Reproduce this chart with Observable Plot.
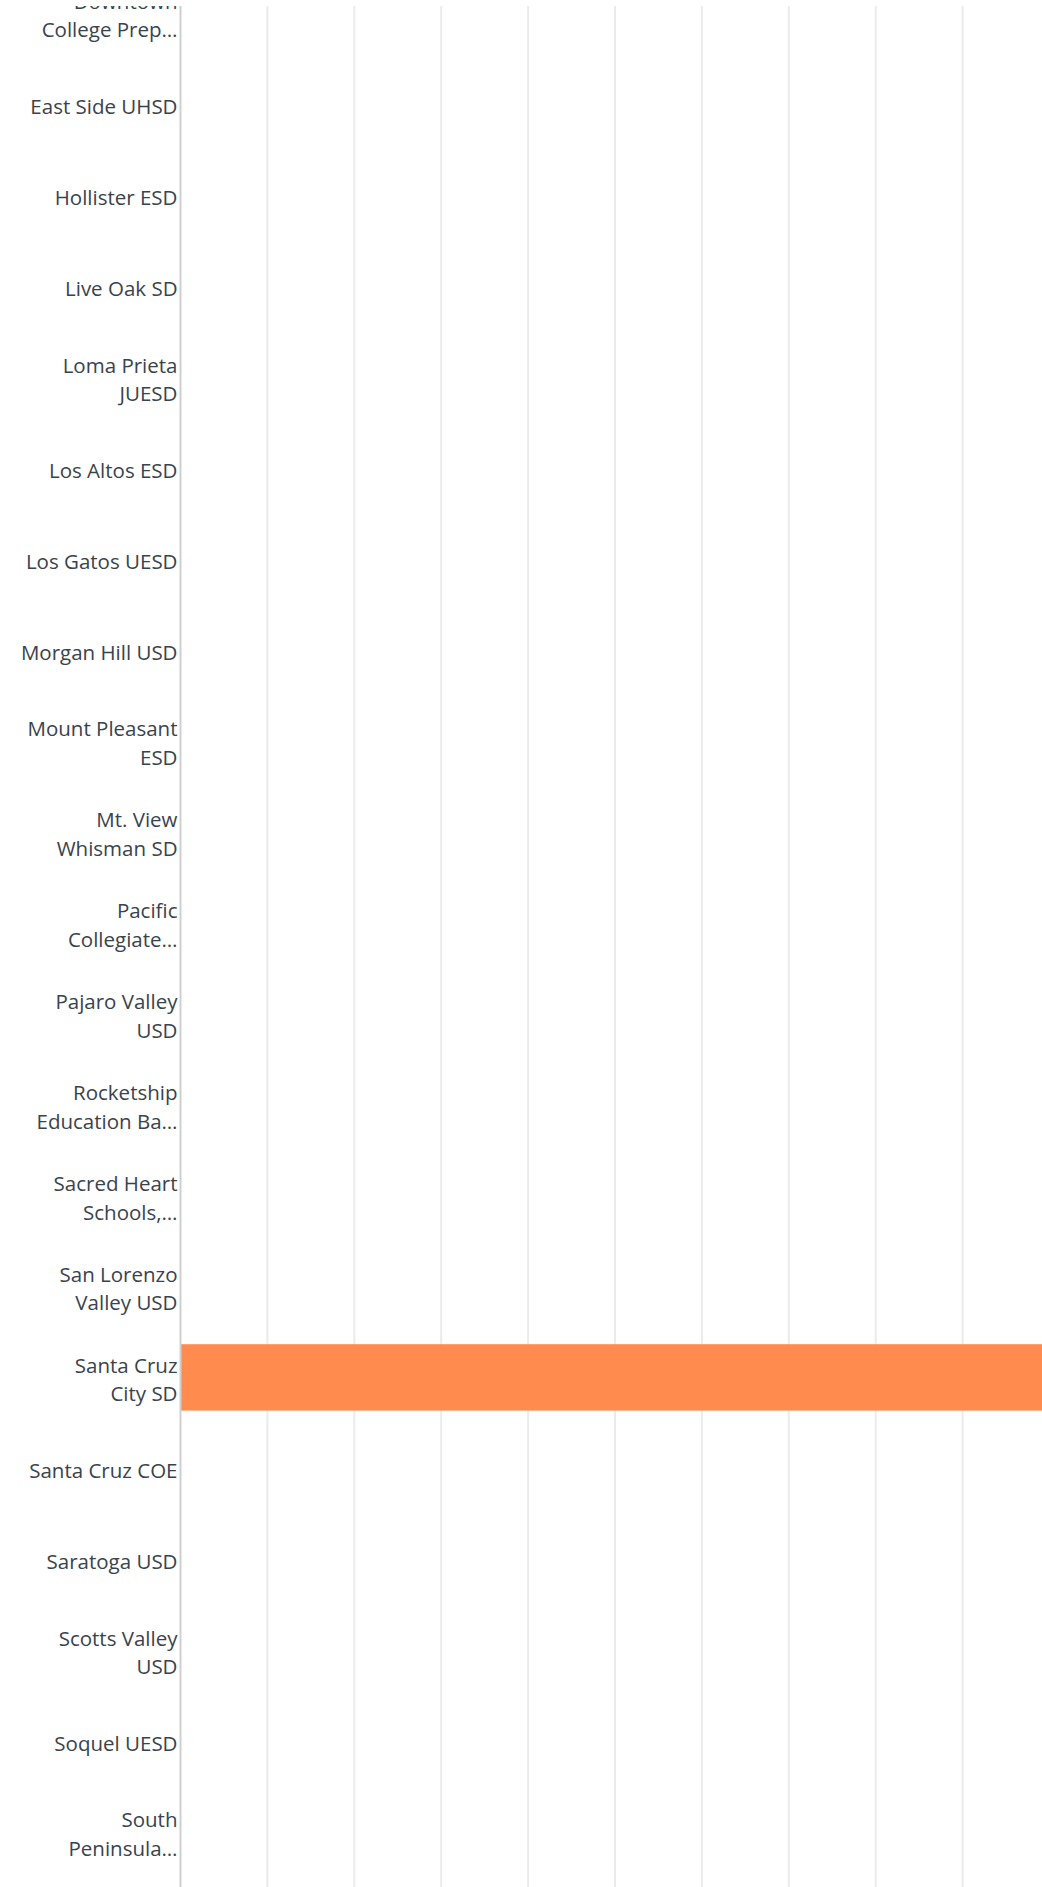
<!DOCTYPE html>
<html>
<head>
<meta charset="utf-8">
<script src="https://cdn.jsdelivr.net/npm/d3@7"></script>
<script src="https://cdn.jsdelivr.net/npm/@observablehq/plot@0.6"></script>
<style>
  html, body { margin: 0; padding: 0; background: #ffffff; overflow: hidden; }
  #chart { padding-top: 6px; }
  #chart svg { overflow: hidden; display: block; }
</style>
</head>
<body>
<div id="chart"></div>
<script>
// Categories (school districts) in display order
const districts = [
  "Downtown College Prep",
  "East Side UHSD",
  "Hollister ESD",
  "Live Oak SD",
  "Loma Prieta JUESD",
  "Los Altos ESD",
  "Los Gatos UESD",
  "Morgan Hill USD",
  "Mount Pleasant ESD",
  "Mt. View Whisman SD",
  "Pacific Collegiate",
  "Pajaro Valley USD",
  "Rocketship Education Bay Area",
  "Sacred Heart Schools",
  "San Lorenzo Valley USD",
  "Santa Cruz City SD",
  "Santa Cruz COE",
  "Saratoga USD",
  "Scotts Valley USD",
  "Soquel UESD",
  "South Peninsula"
];

// Axis labels as shown (wrapped / truncated)
const tickLabels = [
  "Downtown\nCollege Prep…",
  "East Side UHSD",
  "Hollister ESD",
  "Live Oak SD",
  "Loma Prieta\nJUESD",
  "Los Altos ESD",
  "Los Gatos UESD",
  "Morgan Hill USD",
  "Mount Pleasant\nESD",
  "Mt. View\nWhisman SD",
  "Pacific\nCollegiate…",
  "Pajaro Valley\nUSD",
  "Rocketship\nEducation Ba…",
  "Sacred Heart\nSchools,…",
  "San Lorenzo\nValley USD",
  "Santa Cruz\nCity SD",
  "Santa Cruz COE",
  "Saratoga USD",
  "Scotts Valley\nUSD",
  "Soquel UESD",
  "South\nPeninsula…"
];

// Response percentages
const percents = [0, 0, 0, 0, 0, 0, 0, 0, 0, 0, 0, 0, 0, 0, 0, 100, 0, 0, 0, 0, 0];

// Gridline values (percent)
const xTicks = [10, 20, 30, 40, 50, 60, 70, 80, 90];

const rows = districts.map((d, i) => ({district: d, label: tickLabels[i], pct: percents[i]}));

const chart = Plot.plot({
  width: 1042,
  height: 1881,
  marginLeft: 180,
  marginRight: 0,
  marginTop: 0,
  marginBottom: 0,
  style: {background: "#ffffff", fontFamily: "'Open Sans', sans-serif"},
  x: {domain: [0, 100], range: [180, 1049], axis: null},
  y: {type: "band", domain: districts, range: [-38, 1871.5], round: false, paddingInner: 0.27, paddingOuter: 0.135, axis: null},
  marks: [
    Plot.ruleX(xTicks, {stroke: "#ebebeb", strokeWidth: 2}),
    Plot.barX(rows.filter(r => r.pct > 0), {x: "pct", y: "district", fill: "#ff8b4f"}),
    Plot.ruleX([0], {stroke: "#cfcfcf", strokeWidth: 2}),
    Plot.text(rows, {
      y: "district",
      text: "label",
      frameAnchor: "left",
      dx: -3,
      textAnchor: "end",
      lineHeight: 1.4,
      fontSize: 20.5,
      fill: "#39434d"
    })
  ]
});

document.getElementById("chart").appendChild(chart);
</script>
</body>
</html>
